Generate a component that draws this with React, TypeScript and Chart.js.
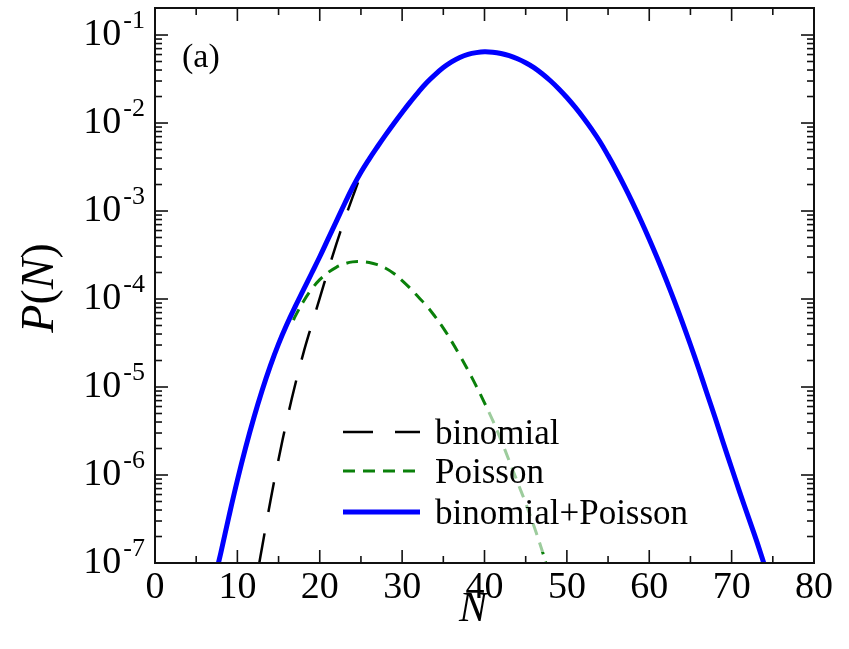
import React, { useEffect, useRef } from "react";
import { Chart, registerables } from "chart.js";

Chart.register(...registerables);

// ---- data (values are log10 P(N)) ----
const blueN = [7.7, 8, 9, 10, 11, 12, 13, 14, 15, 16, 17, 18, 19, 20, 21, 22, 23, 24, 25, 26, 27, 28, 29, 30, 31, 32, 33, 34, 35, 36, 37, 38, 39, 40, 41, 42, 43, 44, 45, 46, 47, 48, 49, 50, 51, 52, 53, 54, 55, 56, 57, 58, 59, 60, 61, 62, 63, 64, 65, 66, 67, 68, 69, 70, 71, 72, 73, 73.9];
const blueLog = [-7.0, -6.88, -6.46, -6.06, -5.69, -5.35, -5.04, -4.76, -4.51, -4.29, -4.09, -3.90, -3.71, -3.52, -3.32, -3.12, -2.92, -2.73, -2.56, -2.41, -2.27, -2.135, -2.005, -1.88, -1.76, -1.645, -1.54, -1.45, -1.37, -1.305, -1.255, -1.22, -1.2, -1.19, -1.195, -1.21, -1.235, -1.27, -1.315, -1.37, -1.44, -1.52, -1.61, -1.71, -1.82, -1.94, -2.07, -2.21, -2.37, -2.54, -2.72, -2.91, -3.11, -3.32, -3.54, -3.77, -4.01, -4.26, -4.52, -4.79, -5.07, -5.35, -5.64, -5.92, -6.2, -6.47, -6.74, -7.0];

const poissonN = [16.8, 17, 18, 19, 20, 21, 22, 23, 24, 25, 26, 27, 28, 29, 30, 31, 32, 33, 34, 35, 36, 37, 38, 39, 40, 41, 42, 43, 44, 45, 46, 47, 47.45];
const poissonLog = [-4.24, -4.2, -4.03, -3.89, -3.78, -3.70, -3.64, -3.60, -3.578, -3.575, -3.585, -3.61, -3.65, -3.71, -3.79, -3.88, -3.98, -4.08, -4.20, -4.33, -4.48, -4.64, -4.81, -4.99, -5.18, -5.38, -5.60, -5.84, -6.08, -6.32, -6.58, -6.86, -7.0];

const binomialN = [12.66, 13, 14, 15, 16, 17, 18, 19, 20, 21, 22, 23, 24, 24.7];
const binomialLog = [-7.0, -6.82, -6.30, -5.82, -5.38, -4.98, -4.62, -4.30, -3.99, -3.68, -3.38, -3.10, -2.84, -2.66];

const xTicksMajor = [0, 10, 20, 30, 40, 50, 60, 70, 80];
const xTickLabels = ["0", "10", "20", "30", "40", "50", "60", "70", "80"];
const xTicksMinor = [5, 15, 25, 35, 45, 55, 65, 75];
const yDecades = [-7, -6, -5, -4, -3, -2, -1];
const yTickExponents = ["-7", "-6", "-5", "-4", "-3", "-2", "-1"];

const legendLabels = ["binomial", "Poisson", "binomial+Poisson"];
const panelLabel = "(a)";

const SERIF = '"Liberation Serif", "Times New Roman", serif';

function toPoints(ns: number[], logs: number[]) {
  return ns.map((n, i) => ({ x: n, y: Math.pow(10, logs[i]) }));
}

const framePlugin = {
  id: "framePlugin",
  afterDatasetsDraw(chart: any) {
    const { ctx } = chart;
    ctx.save();
    // legend background (semi transparent)
    ctx.fillStyle = "rgba(255,255,255,0.6)";
    ctx.fillRect(330, 408, 372, 144);
    const rows = [432, 471, 512];
    const styles = [
      { color: "#000000", width: 2.5, dash: [30, 22] },
      { color: "#0a800a", width: 3, dash: [12, 8] },
      { color: "#0000ff", width: 5, dash: [] as number[] },
    ];
    for (let i = 0; i < 3; i++) {
      ctx.beginPath();
      ctx.setLineDash(styles[i].dash);
      ctx.strokeStyle = styles[i].color;
      ctx.lineWidth = styles[i].width;
      ctx.moveTo(343, rows[i]);
      ctx.lineTo(420, rows[i]);
      ctx.stroke();
      ctx.setLineDash([]);
      ctx.fillStyle = "#000";
      ctx.font = `35px ${SERIF}`;
      ctx.textAlign = "left";
      ctx.textBaseline = "alphabetic";
      ctx.fillText(legendLabels[i], 435, rows[i] + 12);
    }
    ctx.restore();
  },
  afterDraw(chart: any) {
    const { ctx, chartArea: a, scales } = chart;
    const x = scales.x;
    const y = scales.y;
    ctx.save();
    ctx.strokeStyle = "#111";
    ctx.lineWidth = 2;
    ctx.strokeRect(a.left, a.top, a.right - a.left, a.bottom - a.top);
    const tick = (x1: number, y1: number, x2: number, y2: number) => {
      ctx.beginPath();
      ctx.moveTo(x1, y1);
      ctx.lineTo(x2, y2);
      ctx.stroke();
    };
    ctx.lineWidth = 1.6;
    for (const v of xTicksMajor) {
      const px = x.getPixelForValue(v);
      tick(px, a.bottom, px, a.bottom - 13);
      tick(px, a.top, px, a.top + 13);
    }
    for (const v of xTicksMinor) {
      const px = x.getPixelForValue(v);
      tick(px, a.bottom, px, a.bottom - 7);
      tick(px, a.top, px, a.top + 7);
    }
    for (const e of yDecades) {
      const py = y.getPixelForValue(Math.pow(10, e));
      tick(a.left, py, a.left + 13, py);
      tick(a.right, py, a.right - 13, py);
      for (let m = 2; m <= 9; m++) {
        const v = m * Math.pow(10, e);
        if (v > y.max * 0.97) continue;
        const pm = y.getPixelForValue(v);
        tick(a.left, pm, a.left + 7, pm);
        tick(a.right, pm, a.right - 7, pm);
      }
    }
    // x tick labels
    ctx.fillStyle = "#000";
    ctx.font = `38px ${SERIF}`;
    ctx.textAlign = "center";
    ctx.textBaseline = "alphabetic";
    xTicksMajor.forEach((v, i) => {
      ctx.fillText(xTickLabels[i], x.getPixelForValue(v), a.bottom + 35);
    });
    // y tick labels 10^e
    yDecades.forEach((e, i) => {
      const py = y.getPixelForValue(Math.pow(10, e));
      const right = a.left - 10;
      ctx.font = `26px ${SERIF}`;
      ctx.textAlign = "right";
      ctx.fillText(yTickExponents[i], right, py - 7);
      const ew = ctx.measureText(yTickExponents[i]).width;
      ctx.font = `38px ${SERIF}`;
      ctx.fillText("10", right - ew - 2, py + 10);
    });
    // axis titles
    ctx.font = `italic 42px ${SERIF}`;
    ctx.textAlign = "center";
    ctx.fillText("N", x.getPixelForValue(38.6), a.bottom + 58);
    ctx.save();
    ctx.translate(53, 288);
    ctx.rotate(-Math.PI / 2);
    ctx.textAlign = "left";
    const parts = [
      { t: "P", it: true },
      { t: "(", it: false },
      { t: "N", it: true },
      { t: ")", it: false },
    ];
    let total = 0;
    for (const p of parts) {
      ctx.font = `${p.it ? "italic " : ""}46px ${SERIF}`;
      total += ctx.measureText(p.t).width;
    }
    let cx = -total / 2;
    for (const p of parts) {
      ctx.font = `${p.it ? "italic " : ""}46px ${SERIF}`;
      ctx.fillText(p.t, cx, 0);
      cx += ctx.measureText(p.t).width;
    }
    ctx.restore();
    // panel label
    ctx.font = `34px ${SERIF}`;
    ctx.textAlign = "left";
    ctx.fillText(panelLabel, 182, 67);
    ctx.restore();
  },
};

export default function App() {
  const ref = useRef<HTMLCanvasElement | null>(null);
  useEffect(() => {
    document.body.style.margin = "0";
    const canvas = ref.current!;
    const chart = new Chart(canvas, {
      type: "line",
      data: {
        datasets: [
          {
            label: legendLabels[0],
            data: toPoints(binomialN, binomialLog),
            borderColor: "#000000",
            borderWidth: 2.5,
            borderDash: [30, 22],
            pointRadius: 0,
            fill: false,
            tension: 0.4,
            order: 3,
          },
          {
            label: legendLabels[1],
            data: toPoints(poissonN, poissonLog),
            borderColor: "#0a800a",
            borderWidth: 3,
            borderDash: [12, 8],
            pointRadius: 0,
            fill: false,
            tension: 0.4,
            order: 2,
          },
          {
            label: legendLabels[2],
            data: toPoints(blueN, blueLog),
            borderColor: "#0000ff",
            borderWidth: 5,
            pointRadius: 0,
            fill: false,
            tension: 0.4,
            order: 1,
          },
        ],
      },
      options: {
        animation: false,
        responsive: false,
        layout: { padding: { left: 155, right: 35, top: 8, bottom: 86 } },
        plugins: { legend: { display: false }, tooltip: { enabled: false } },
        scales: {
          x: { type: "linear", min: 0, max: 80, display: false },
          y: { type: "logarithmic", min: 1e-7, max: Math.pow(10, -0.693), display: false },
        },
      },
      plugins: [framePlugin],
    });
    return () => chart.destroy();
  }, []);
  return (
    <div style={{ position: "fixed", left: 0, top: 0, width: 849, height: 649, background: "#fff" }}>
      <canvas ref={ref} width={849} height={649} style={{ width: 849, height: 649 }} />
    </div>
  );
}
